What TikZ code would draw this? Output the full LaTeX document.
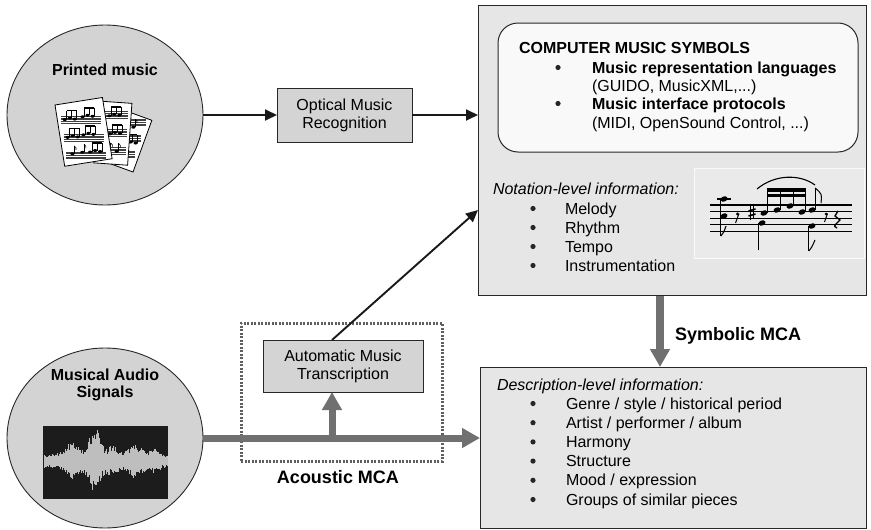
\documentclass[tikz,border=0pt]{standalone}
\usepackage{fontspec}
\setmainfont{Liberation Sans}
\usetikzlibrary{arrows.meta,shapes.geometric,calc}

\definecolor{circfill}{RGB}{211,211,211}
\definecolor{panelfill}{RGB}{230,230,231}
\definecolor{boxfill}{RGB}{212,212,212}
\definecolor{softwhite}{RGB}{249,249,249}
\definecolor{edge}{RGB}{40,40,40}
\definecolor{flow}{RGB}{112,112,112}
\definecolor{dotline}{RGB}{95,95,95}
\definecolor{inset}{RGB}{234,234,235}
\definecolor{wavebg}{RGB}{28,28,28}
\definecolor{wavefg}{RGB}{190,190,190}

\tikzset{
  % one staff of a printed sheet, #1 = length
  pics/staffrow/.style={code={
    \foreach \k in {0,...,4}
      \draw[line width=0.3pt, black!75] (0,{\k*1.7}) -- (#1,{\k*1.7});
  }},
  % a small group of beamed notes
  pics/notegroup/.style={code={
    \foreach \dx/\dy in {0/4,5/2.5,10/3.5}{
      \fill ({\dx},{\dy}) ellipse[x radius=2.1pt, y radius=1.5pt];
      \draw[line width=0.6pt] ({\dx+1.8},{\dy}) -- ({\dx+1.8},-5);
    }
    \draw[line width=1.5pt] (1.8,-5) -- (11.8,-5);
  }},
  pics/onenote/.style={code={
    \fill (0,3) ellipse[x radius=2.1pt, y radius=1.5pt];
    \draw[line width=0.6pt] (1.8,3) -- (1.8,-5);
    \draw[line width=0.6pt] (1.8,-5) .. controls (4,-3) .. (3.6,-1);
  }},
}

\begin{document}
\begin{tikzpicture}[x=1pt,y=-1pt,
  font=\fontsize{16}{19}\selectfont,
  every node/.style={inner sep=0pt, outer sep=0pt},
  source/.style={ellipse, draw=edge, line width=0.9pt, fill=circfill,
    minimum width=196pt, minimum height=180pt},
  procbox/.style={draw=edge, line width=1pt, fill=boxfill, align=center,
    font=\fontsize{16}{18}\selectfont},
  panel/.style={draw=edge, line width=1pt, fill=panelfill, anchor=north west},
  thinarrow/.style={draw=black!90, line width=1.9pt,
    -{Triangle[length=12pt,width=11pt]}},
  thickarrow/.style={draw=flow, line width=7pt,
    -{Triangle[length=18pt,width=19pt]}},
  title/.style={font=\bfseries\fontsize{16}{19}\selectfont},
  mca/.style={font=\bfseries\fontsize{18}{20}\selectfont},
  item/.style={anchor=base west},
  dot/.style={fill=black!85},
  sheet/.style={draw=black, line width=0.8pt, fill=white},
  staff/.style={line width=1.3pt, black},
  wave/.style={draw=wavefg, line width=0.9pt},
]
\useasboundingbox (0,0) rectangle (871,530);

%---------------- sources ----------------
\node[source] (print) at (105,115) {};
\node[title, anchor=base] (printlab) at (105,75) {Printed music};

\node[source] (audio) at (105,438) {};
\node[title, anchor=base, align=center, font=\bfseries\fontsize{16}{16.5}\selectfont]
  (audiolab) at (105,397) {Musical Audio\\Signals};

% sheets of printed music
\begin{scope}[shift={(118,108)}, rotate=-20]
  \draw[sheet] (0,0) rectangle (36,55);
  \foreach \r in {10,27,44}{
    \pic at (4,\r) {staffrow=28};
  }
  \pic at (20,10) {onenote};
  \pic at (18,27) {notegroup};
  \pic at (22,44) {onenote};
\end{scope}
\begin{scope}[shift={(98,101)}, rotate=-4]
  \draw[sheet] (0,0) rectangle (34,62);
  \foreach \r in {10,28,46}{
    \pic at (4,\r) {staffrow=27};
  }
  \pic at (12,10) {notegroup};
  \pic at (14,28) {notegroup};
  \pic at (14,46) {onenote};
  \pic at (22,46) {onenote};
\end{scope}
\begin{scope}[shift={(55,105)}, rotate=9]
  \draw[sheet] (0,0) rectangle (48,62);
  \foreach \r in {12,30,48}{
    \pic at (4,\r) {staffrow=40};
  }
  \pic at (8,12) {notegroup};
  \pic at (26,12) {notegroup};
  \pic at (8,30) {notegroup};
  \pic at (24,30) {notegroup};
  \pic at (10,48) {onenote};
  \pic at (20,48) {onenote};
  \pic at (28,48) {notegroup};
\end{scope}

% audio waveform
\node[fill=wavebg, minimum width=125pt, minimum height=73pt, anchor=north west]
  (wave) at (43,426) {};
\begin{scope}
  \clip (43,426) rectangle (168,499);
  \pgfmathsetseed{11}
  \foreach \i in {0,...,123}{
    \pgfmathsetmacro{\xx}{44.5+\i}
    \pgfmathsetmacro{\env}{7+27*exp(-((\xx-95)/8)^2)+13*exp(-((\xx-72)/9)^2)
      +10*exp(-((\xx-135)/10)^2)+9*exp(-((\xx-113)/6)^2)+6*exp(-((\xx-155)/5)^2)}
    \pgfmathsetmacro{\up}{\env*(0.55+0.45*rnd)}
    \pgfmathsetmacro{\dn}{\env*(0.55+0.45*rnd)}
    \draw[wave] ({\xx},{461-\up}) -- ({\xx},{461+\dn});
  }
\end{scope}

%---------------- processing boxes ----------------
\node[procbox, minimum width=135pt, minimum height=54pt] (omr) at (344.5,115)
  {Optical Music\\Recognition};

\node[draw=dotline, line width=3pt, dash pattern=on 2pt off 1.5pt,
  minimum width=201pt, minimum height=138pt, anchor=north west] (acbox) at (241,323) {};
\node[procbox, minimum width=160pt, minimum height=52pt] (amt) at (343,366)
  {Automatic Music\\Transcription};
\node[mca, anchor=base] (acmca) at (338,483) {Acoustic MCA};

%---------------- symbolic panel ----------------
\node[panel, minimum width=388pt, minimum height=290pt] (sym) at (478,5) {};
\node[draw=edge, line width=1pt, fill=softwhite, rounded corners=20pt,
  minimum width=360pt, minimum height=129pt, anchor=north west] (cms) at (498,23) {};
\node[title, item] (cmstitle) at (519,53) {COMPUTER MUSIC SYMBOLS};
\fill[dot] (558,67.5) circle[radius=2.6pt];
\node[title, item] (lang) at (592,73) {Music representation languages};
\node[item] (langex) at (592,91.5) {(GUIDO, MusicXML,...)};
\fill[dot] (558,103.5) circle[radius=2.6pt];
\node[title, item] (proto) at (592,109.5) {Music interface protocols};
\node[item] (protoex) at (592,128) {(MIDI, OpenSound Control, ...)};

\node[item, font=\itshape\fontsize{16}{19}\selectfont] (notlab) at (493,194)
  {Notation-level information:};
\foreach \t [count=\n from 0] in {Melody,Rhythm,Tempo,Instrumentation}{
  \fill[dot] (533,{208.5+19*\n}) circle[radius=2.6pt];
  \node[item] (not\n) at (565,{214+19*\n}) {\t};
}

% score excerpt
\node[fill=inset, draw=white!75!inset, line width=0.8pt,
  minimum width=170pt, minimum height=90pt, anchor=north west] (score) at (694,168) {};
\foreach \s in {0,...,4}
  \draw[staff] (710,{205+6.6*\s}) -- (852,{205+6.6*\s});
% chord with ledger line
\draw[line width=1.3pt] (717,199) -- (731,199);
\fill[rotate around={20:(724,199)}] (724,199) ellipse[x radius=3.6pt, y radius=2.6pt];
\fill[rotate around={20:(724,216)}] (724,216) ellipse[x radius=3.6pt, y radius=2.6pt];
\draw[line width=1.1pt] (720.8,199) -- (720.8,236);
\draw[line width=1.1pt] (720.8,236) .. controls (724,232) .. (726,226);
% eighth rest
\fill (737.5,214) circle[radius=1.6pt];
\draw[line width=1pt] (739,213.5) -- (735.5,223);
% sharp
\draw[line width=0.8pt] (750.5,206) -- (750.5,220) (753.5,205) -- (753.5,219);
\draw[line width=1.6pt] (748.5,211) -- (755.5,209) (748.5,216) -- (755.5,214);
% beamed sixteenths
\foreach \hx/\hy in {764/213,777/210,790/206,802/212}{
  \fill[rotate around={20:(\hx,\hy)}] (\hx,\hy) ellipse[x radius=3.6pt, y radius=2.6pt];
  \draw[line width=1pt] ({\hx+3.2},\hy) -- ({\hx+3.2},189);
}
\fill (767,188) rectangle (805.7,191.5);
\fill (767,194) rectangle (805.7,197);
% eighth with flag
\fill[rotate around={20:(812,210)}] (812,210) ellipse[x radius=3.6pt, y radius=2.6pt];
\draw[line width=1pt] (815.2,210) -- (815.2,188);
\draw[line width=1pt] (815.2,188) .. controls (822,194) .. (821,203);
% lower voice
\fill[rotate around={20:(762,223)}] (762,223) ellipse[x radius=3.6pt, y radius=2.6pt];
\draw[line width=1pt] (758.8,223) -- (758.8,250);
\fill[rotate around={20:(812,226)}] (812,226) ellipse[x radius=3.6pt, y radius=2.6pt];
\draw[line width=1pt] (808.8,226) -- (808.8,251);
\draw[line width=1pt] (808.8,251) .. controls (812,247) .. (815,240);
% closing rests
\fill (826,214) circle[radius=1.5pt];
\draw[line width=1pt] (827.5,213.5) -- (824.5,222);
\draw[line width=1.3pt] (838,211) -- (835,216) -- (840,220) -- (836,224)
  .. controls (834,226) .. (837,228);
% slur
\draw[line width=1.1pt] (757,189) .. controls (775,174) and (800,174) .. (815,185);

%---------------- description panel ----------------
\node[panel, minimum width=386pt, minimum height=161pt] (desc) at (480,367) {};
\node[item, font=\itshape\fontsize{16}{19}\selectfont] (desclab) at (497,390)
  {Description-level information:};
\foreach \t [count=\n from 0] in {Genre / style / historical period,
    Artist / performer / album, Harmony, Structure, Mood / expression,
    Groups of similar pieces}{
  \fill[dot] (533,{403.5+19.2*\n}) circle[radius=2.6pt];
  \node[item] (desc\n) at (566,{409+19.2*\n}) {\t};
}

%---------------- connectors ----------------
\coordinate (tap) at (332,438);
\coordinate (symin) at (478,210);
\coordinate (symout) at (660,295.5);

\draw[thinarrow] (print.east |- omr.west) -- (omr.west);
\draw[thinarrow] (omr.east) -- (omr.east -| sym.west);
\draw[thinarrow] (tap |- amt.north) -- (symin);

\draw[thickarrow] (audio.east) -- (audio.east -| desc.west);
\draw[thickarrow] (tap) -- (tap |- amt.south);
\draw[thickarrow, line width=8pt] (symout) -- (symout |- desc.north);
\node[mca, anchor=base west] (symmca) at (675,340) {Symbolic MCA};

\end{tikzpicture}
\end{document}
